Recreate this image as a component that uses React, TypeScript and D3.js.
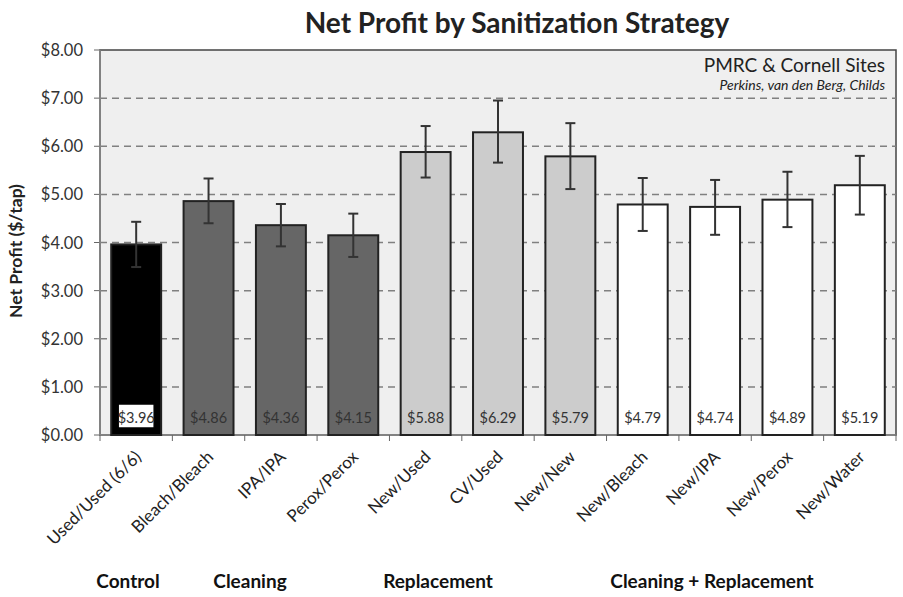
import React from "react";
import * as d3 from "d3";

const categories = ["Used/Used (6/6)", "Bleach/Bleach", "IPA/IPA", "Perox/Perox", "New/Used", "CV/Used", "New/New", "New/Bleach", "New/IPA", "New/Perox", "New/Water"];
const values = [3.96, 4.86, 4.36, 4.15, 5.88, 6.29, 5.79, 4.79, 4.74, 4.89, 5.19];
const errLow = [3.49, 4.40, 3.92, 3.70, 5.35, 5.66, 5.11, 4.24, 4.16, 4.32, 4.58];
const errHigh = [4.43, 5.33, 4.80, 4.60, 6.42, 6.95, 6.48, 5.34, 5.30, 5.47, 5.80];
const groupOf = ["Control", "Cleaning", "Cleaning", "Cleaning", "Replacement", "Replacement", "Replacement", "Cleaning + Replacement", "Cleaning + Replacement", "Cleaning + Replacement", "Cleaning + Replacement"];
const groups = ["Control", "Cleaning", "Replacement", "Cleaning + Replacement"];
const groupColors = ["#000000", "#666666", "#cccccc", "#ffffff"];
const groupLabelX = [128, 250, 438, 712];
const yTicks = [0, 1, 2, 3, 4, 5, 6, 7, 8];

const W = 903, H = 597;
const M = { left: 100, right: 896, top: 50, bottom: 435 };
const FONT = "Lato, 'Open Sans', sans-serif";

export default function App() {
  const x = d3.scaleBand<string>().domain(categories).range([M.left, M.right]).paddingInner(0.31).paddingOuter(0.155);
  const y = d3.scaleLinear().domain([0, 8]).range([M.bottom, M.top]);
  const color = d3.scaleOrdinal<string, string>().domain(groups).range(groupColors);
  const step = (M.right - M.left) / categories.length;
  const fmt = d3.format("$.2f");

  return (
    <svg width={W} height={H} style={{ position: "absolute", left: 0, top: 0, background: "#fff" }}>
      <text x={517} y={33} textAnchor="middle" fontFamily={FONT} fontWeight="bold" fontSize={28} fill="#222">Net Profit by Sanitization Strategy</text>
      <rect x={M.left} y={M.top} width={M.right - M.left} height={M.bottom - M.top} fill="#efefef" stroke="#444" strokeWidth={1.5} />
      {yTicks.filter(t => t > 0 && t < 8).map(t => (
        <line key={t} x1={M.left} x2={M.right} y1={y(t)} y2={y(t)} stroke="#808080" strokeWidth={1.5} strokeDasharray="7,5" />
      ))}
      {yTicks.map(t => (
        <g key={"yt" + t}>
          <line x1={M.left - 6} x2={M.left} y1={y(t)} y2={y(t)} stroke="#666" strokeWidth={1} />
          <text x={M.left - 17} y={y(t) + 6} textAnchor="end" fontFamily={FONT} fontSize={16.5} fill="#333">{fmt(t)}</text>
        </g>
      ))}
      <line x1={M.left} x2={M.left} y1={M.top} y2={M.bottom} stroke="#888" strokeWidth={1.5} />
      <line x1={M.left} x2={M.right} y1={M.bottom} y2={M.bottom} stroke="#888" strokeWidth={1.5} />
      {d3.range(categories.length + 1).map(i => (
        <line key={"xt" + i} x1={M.left + i * step} x2={M.left + i * step} y1={M.bottom} y2={M.bottom + 6} stroke="#666" strokeWidth={1} />
      ))}
      <text transform={`translate(22,251) rotate(-90)`} textAnchor="middle" fontFamily={FONT} fontWeight="bold" fontSize={17.5} fill="#222">Net Profit ($/tap)</text>
      {categories.map((c, i) => {
        const bx = x(c)!;
        const bw = x.bandwidth();
        const cx = bx + bw / 2;
        return (
          <g key={c}>
            <rect x={bx} y={y(values[i])} width={bw} height={y(0) - y(values[i])} fill={color(groupOf[i])} stroke="#222" strokeWidth={2} />
            <line x1={cx} x2={cx} y1={y(errLow[i])} y2={y(errHigh[i])} stroke="#333" strokeWidth={2} />
            <line x1={cx - 5} x2={cx + 5} y1={y(errLow[i])} y2={y(errLow[i])} stroke="#333" strokeWidth={2} />
            <line x1={cx - 5} x2={cx + 5} y1={y(errHigh[i])} y2={y(errHigh[i])} stroke="#333" strokeWidth={2} />
            {i === 0 && <rect x={cx - 18} y={404} width={36} height={24} fill="#fff" stroke="#000" strokeWidth={1.5} />}
            <text x={cx} y={423} textAnchor="middle" fontFamily={FONT} fontSize={14.5} fill="#333">{fmt(values[i])}</text>
            <text transform={`translate(${cx + 6},${M.bottom + 23}) rotate(-45)`} textAnchor="end" fontFamily={FONT} fontSize={17} fill="#222">{c}</text>
          </g>
        );
      })}
      {groups.map((g, i) => (
        <text key={g} x={groupLabelX[i]} y={588} textAnchor="middle" fontFamily={FONT} fontWeight="bold" fontSize={19} fill="#111">{g}</text>
      ))}
      <text x={885} y={72} textAnchor="end" fontFamily={FONT} fontSize={19} fill="#222">PMRC &amp; Cornell Sites</text>
      <text x={885} y={90} textAnchor="end" fontFamily={FONT} fontStyle="italic" fontSize={14} fill="#222">Perkins, van den Berg, Childs</text>
    </svg>
  );
}
